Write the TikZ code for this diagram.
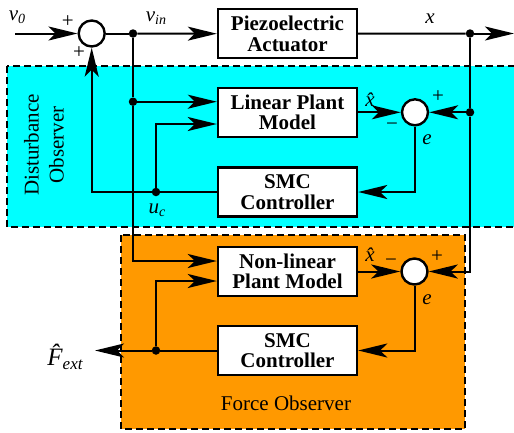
\documentclass[tikz,border=0pt]{standalone}
\usepackage{fontspec}
\setmainfont{Liberation Serif}
\usetikzlibrary{arrows.meta,calc}
\definecolor{dcyan}{RGB}{0,255,255}
\definecolor{forange}{RGB}{255,153,0}
\newcommand\lbsub[3][14]{\textit{#2}\raisebox{-0.35ex}{\fontsize{#1}{#1}\selectfont\textit{#3}}}
\begin{document}
\begin{tikzpicture}[x=1pt,y=-1pt,
 blk/.style={draw,line width=2.4pt,fill=white,minimum width=139pt,minimum height=49pt,inner sep=0pt,align=center,font=\fontsize{21}{20.5}\selectfont\bfseries},
 sumc/.style={circle,draw,line width=2.4pt,fill=white,minimum size=26pt,inner sep=0pt},
 dotn/.style={circle,fill=black,minimum size=8.5pt,inner sep=0pt},
 wire/.style={line width=2pt},
 arr/.style={wire,-{Stealth[length=29pt,width=14pt,inset=7pt]}},
 lbl/.style={font=\fontsize{21}{21}\selectfont\itshape,inner sep=0pt},
 sgn/.style={font=\fontsize{21}{21}\selectfont,inner sep=0pt},
 region/.style={dash pattern=on 7pt off 4pt,line width=1.5pt}
]
\useasboundingbox (0,0) rectangle (514,432);
% regions
\fill[dcyan] (7,66) rectangle (540,227);
\draw[region] (7,66) rectangle (540,227);
\fill[forange] (121,235) rectangle (465,429);
\draw[region] (121,235) rectangle (465,429);
\node[rotate=90,align=center,font=\fontsize{21}{25}\selectfont] (dlab) at (44,145) {Disturbance\\Observer};
\node[font=\fontsize{21}{21}\selectfont] (flab) at (286,403) {Force Observer};
% nodes
\coordinate (in0) at (15,33.5);
\node[sumc] (s1) at (91.7,33.5) {};
\node[dotn] (d1) at (133,33.5) {};
\node[blk] (pz) at (287.5,33.7) {Piezoelectric\\Actuator};
\node[dotn] (d2) at (470,33.5) {};
\coordinate (out) at (514,33.5);
\node[blk] (lp) at (287.5,112.3) {Linear Plant\\Model};
\node[sumc] (s2) at (415,112.3) {};
\node[dotn] (d3) at (470,112.3) {};
\node[dotn] (d4) at (133,101.7) {};
\node[blk] (smc1) at (287.5,192) {SMC\\Controller};
\node[dotn] (uc) at (156,192) {};
\node[blk] (nl) at (287.5,271.5) {Non-linear\\Plant Model};
\node[sumc] (s3) at (414.5,271.5) {};
\node[blk] (smc2) at (287.5,350.5) {SMC\\Controller};
\node[dotn] (d5) at (156,350.5) {};
\coordinate (fout) at (95,350.5);
% connectors
\draw[arr] (in0) -- (s1.west);
\draw[wire] (s1.east) -- (d1);
\draw[arr] (d1) -- (pz.west);
\draw[wire] (pz.east) -- (d2);
\draw[arr] (d2) -- (out);
\draw[wire] (d2) -- (d3);
\draw[arr] (d3) -- (s2.east);
\draw[arr] (lp.east) -- (s2.west);
\draw[arr] (s2.south) |- (smc1.east);
\draw[wire] (d1) -- (d4);
\draw[arr] (d4) -- (d4 -| lp.west);
\draw[arr] (uc) |- ($(lp.west)+(0,11.7)$);
\draw[wire] (smc1.west) -- (uc);
\draw[arr] (uc) -| (s1.south);
\draw[arr] (d4) |- ($(nl.west)+(0,-10.5)$);
\draw[arr] (d3) |- (s3.east);
\draw[arr] (nl.east) -- (s3.west);
\draw[arr] (s3.south) |- (smc2.east);
\draw[wire] (smc2.west) -- (d5);
\draw[arr] (d5) -- (fout);
\draw[arr] (d5) |- ($(nl.west)+(0,9.5)$);
% labels
\node[lbl] (lv0) at (17,17) {\lbsub{v}{0}};
\node[sgn] (p1) at (67.7,21.7) {+};
\node[sgn] (p2) at (79,53) {+};
\node[lbl] (lvin) at (156,18) {\lbsub{v}{in}};
\node[lbl] (lx) at (430,19) {x};
\node[lbl] (lxh1) at (370,100) {\^{x}};
\node[sgn] (m1) at (392,127) {−};
\node[sgn] (p3) at (438,97) {+};
\node[lbl] (le1) at (427,140) {e};
\node[lbl] (luc) at (157,210) {\lbsub{u}{c}};
\node[lbl] (lxh2) at (370,255) {\^{x}};
\node[sgn] (m2) at (391,263) {−};
\node[sgn] (p4) at (437,257) {+};
\node[lbl] (le2) at (427,300) {e};
\node[lbl,font=\fontsize{25}{25}\selectfont\itshape] (lf) at (65,357) {\lbsub[17]{\^{F}}{ext}};
\end{tikzpicture}
\end{document}
